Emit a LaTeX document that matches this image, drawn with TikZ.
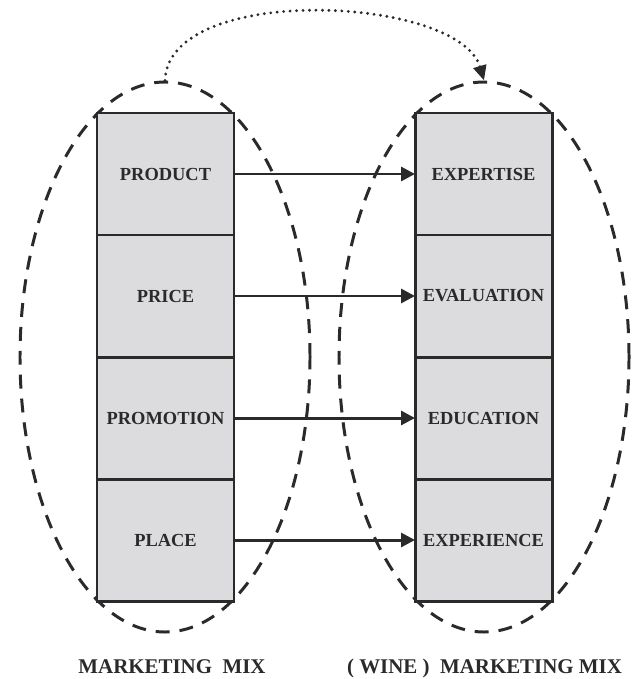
\documentclass[tikz,border=0pt]{standalone}
\usepackage{fontspec}
\setmainfont{Liberation Serif}
\usepackage{xcolor}
\usetikzlibrary{arrows.meta, positioning, shapes.geometric}
\definecolor{cellgray}{HTML}{DCDCDE}
\definecolor{inkgray}{HTML}{2A2A2A}

\begin{document}
\begin{tikzpicture}[
    x=1bp, y=-1bp,
    node distance=0pt,
    box/.style={draw=inkgray, fill=cellgray, line width=3pt, outer sep=0pt, inner sep=0pt, minimum width=137bp, minimum height=122bp, align=center, text=inkgray, font=\fontsize{18.5}{20}\selectfont\bfseries},
    mix/.style={ellipse, draw=inkgray, dash pattern=on 14pt off 10pt, line width=3pt, inner sep=0pt, minimum width=290bp, minimum height=550bp},
    arrow/.style={-{Triangle[length=14pt, width=14pt]}, line width=3pt, draw=inkgray},
    link/.style={-{Triangle[length=15pt, width=13pt]}, line width=3.2pt, line cap=round, dash pattern=on 0pt off 6.5pt, draw=inkgray},
    caption/.style={anchor=base, inner sep=0pt, text=inkgray, font=\fontsize{21}{24}\selectfont\bfseries}
]
    \useasboundingbox (0,0) rectangle (632,679);

    \node[mix] (lmix) at (165,357) {};
    \node[mix] (rmix) at (484,357) {};

    \node[box] (product) at (165.5,174) {PRODUCT};
    \node[box, below=of product] (price) {PRICE};
    \node[box, below=of price] (promotion) {PROMOTION};
    \node[box, below=of promotion] (place) {PLACE};

    \node[box] (expertise) at (483.5,174) {EXPERTISE};
    \node[box, below=of expertise] (evaluation) {EVALUATION};
    \node[box, below=of evaluation] (education) {EDUCATION};
    \node[box, below=of education] (experience) {EXPERIENCE};

    \draw[arrow] (product) -- (expertise);
    \draw[arrow] (price) -- (evaluation);
    \draw[arrow] (promotion) -- (education);
    \draw[arrow] (place) -- (experience);

    \draw[link] (lmix.north) .. controls +(3,-98) and +(-25,-85) .. (rmix.north);

    \node[caption] (lcap) at (172,673) {MARKETING~~MIX};
    \node[caption] (rcap) at (484.5,673) {( WINE )~~MARKETING MIX};
\end{tikzpicture}
\end{document}
